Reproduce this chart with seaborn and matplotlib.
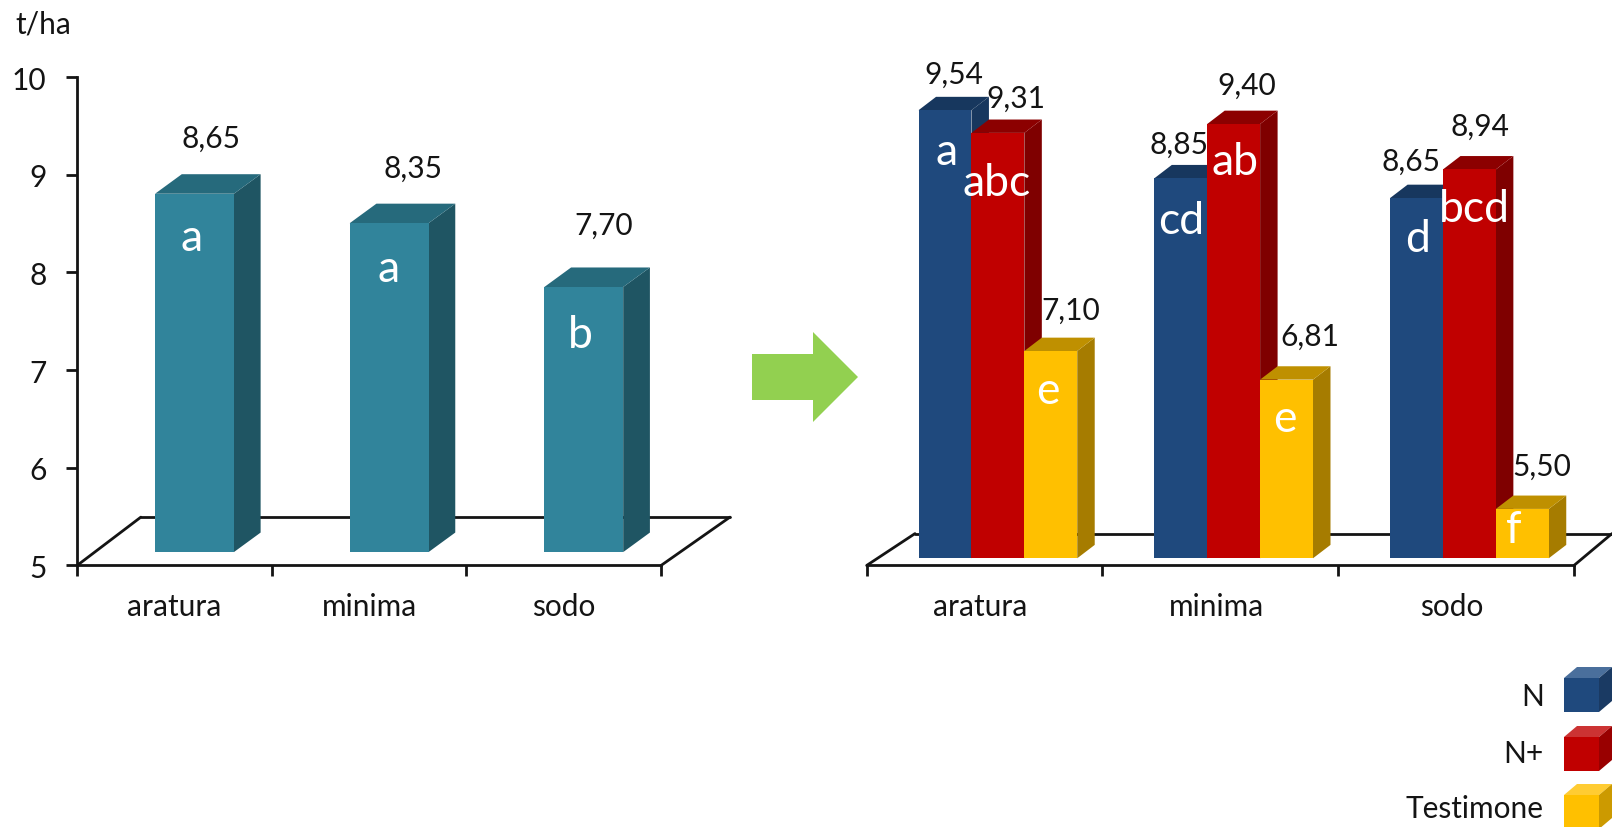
import matplotlib
matplotlib.use("Agg")
import matplotlib.pyplot as plt
import pandas as pd
import seaborn as sns
from matplotlib.patches import Polygon

# Yield by tillage, and yield by tillage and nitrogen treatment (t/ha)
tillage = ["aratura", "minima", "sodo"]
tillage_yield = [8.65, 8.35, 7.70]
tillage_letters = ["a", "a", "b"]

treatments = ["N", "N+", "Testimone"]
yield_n = [9.54, 8.85, 8.65]
yield_n_plus = [9.31, 9.40, 8.94]
yield_control = [7.10, 6.81, 5.50]
letters_n = ["a", "cd", "d"]
letters_n_plus = ["abc", "ab", "bcd"]
letters_control = ["e", "e", "f"]

W, H = 1612, 828
S = W / 1568          # layout below is measured on a 1568-wide grid
FONT = "Lato"
sns.set_theme(style="white")
plt.rcParams["font.family"] = FONT
INK = "#141414"
TEXT_SIZE = 21.5
LETTER_SIZE = 32


def fmt(v):
    return f"{v:.2f}".replace(".", ",")


def box(x0, x1, y_low, y_high):
    """Axes rectangle in figure fractions from grid coordinates (y pointing down)."""
    return [x0 * S / W, 1 - y_low * S / H, (x1 - x0) * S / W, (y_low - y_high) * S / H]


def px(x, y):
    return (x * S / W, 1 - y * S / H)


def extrude(ax, bar, depth_x, depth_y, top_col, side_col, z):
    """Add the top and side faces of a bar, receding by a fixed pixel depth."""
    x_unit = ax.get_window_extent().width / (ax.get_xlim()[1] - ax.get_xlim()[0])
    y_unit = ax.get_window_extent().height / (ax.get_ylim()[1] - ax.get_ylim()[0])
    dx, dy = depth_x * S * fig.dpi / 100 / x_unit, depth_y * S * fig.dpi / 100 / y_unit
    x0, x1 = bar.get_x(), bar.get_x() + bar.get_width()
    top = bar.get_height()
    base = ax.get_ylim()[0]
    ax.add_patch(Polygon([(x1, base), (x1 + dx, base + dy), (x1 + dx, top + dy), (x1, top)],
                         closed=True, fc=side_col, ec="none", lw=0, clip_on=False, zorder=z))
    ax.add_patch(Polygon([(x0, top), (x0 + dx, top + dy), (x1 + dx, top + dy), (x1, top)],
                         closed=True, fc=top_col, ec="none", lw=0, clip_on=False, zorder=z))
    bar.set_zorder(z + 0.5)
    bar.set_edgecolor("none")
    bar.set_linewidth(0)


def base_axes(rect, show_y, label_shift=0.0):
    ax = fig.add_axes(rect)
    ax.set_xlim(-0.5, 2.5)
    ax.set_ylim(5, 10)
    ax.set_xticks([-0.5, 0.5, 1.5, 2.5])
    ax.set_xticklabels([])
    ax.set_xticks([label_shift, 1 + label_shift, 2 + label_shift], labels=tillage, minor=True)
    ax.tick_params(axis="x", which="major", length=8, width=2, color=INK, bottom=True)
    ax.tick_params(axis="x", which="minor", length=0, pad=19, labelsize=TEXT_SIZE, labelcolor=INK)
    sns.despine(ax=ax, top=True, right=True, left=not show_y)
    ax.spines["bottom"].set(linewidth=2, color=INK)
    if show_y:
        ax.spines["left"].set(linewidth=2, color=INK)
        ax.set_yticks([5, 6, 7, 8, 9, 10])
        ax.tick_params(axis="y", length=8, width=2, color=INK, left=True, pad=14,
                       labelsize=TEXT_SIZE, labelcolor=INK)
    else:
        ax.set_yticks([])
    ax.patch.set_visible(False)
    return ax


def floor(ax, dx_left, dx_right, back_y):
    t = ax.transAxes
    style = dict(transform=t, color=INK, lw=2, clip_on=False, solid_capstyle="round")
    ax.plot([0, dx_left], [0, back_y], **style)
    ax.plot([dx_left, 1 + dx_right], [back_y, back_y], **style)
    ax.plot([1, 1 + dx_right], [0, back_y], **style)


def bar_axes(rect):
    ax = fig.add_axes(rect)
    ax.set_zorder(5)
    ax.patch.set_visible(False)
    return ax


def finish(ax):
    ax.set_xlim(-0.5, 2.5)
    ax.set_ylim(5, 10)
    ax.axis("off")


fig = plt.figure(figsize=(W / 100, H / 100), dpi=100, facecolor="white")

# ---- left panel: tillage main effect
ax_l = base_axes(box(75, 643, 551, 76), True)
floor(ax_l, 62 / 568, 67 / 568, 47 / 475)
bars_l = bar_axes(box(94.5, 662.5, 538, 60.5))
sns.barplot(data=pd.DataFrame({"tillage": tillage, "yield": tillage_yield}),
            x="tillage", y="yield", color="#31849B", saturation=1, width=0.405, ax=bars_l)
finish(bars_l)

value_off_l = [(16, -54), (23, -54), (19, -61)]
letter_off_l = [(-3, 43), (-1, 44), (-3, 46)]
for i, bar in enumerate(sorted(bars_l.patches, key=lambda p: p.get_x())):
    extrude(bars_l, bar, 26, 19, "#266A7C", "#1F5563", 2 + i)
    cx = bar.get_x() + bar.get_width() / 2
    top = bar.get_height()
    for txt, off, col, size in [(fmt(tillage_yield[i]), value_off_l[i], INK, TEXT_SIZE),
                                (tillage_letters[i], letter_off_l[i], "white", LETTER_SIZE)]:
        bars_l.annotate(txt, (cx, top), xytext=(off[0] * S, -off[1] * S), textcoords="offset pixels",
                        ha="center", va="center", color=col, fontsize=size, zorder=30,
                        annotation_clip=False)

# ---- right panel: tillage by nitrogen treatment
ax_r = base_axes(box(843, 1531, 551, 76), False, label_shift=-0.018)
floor(ax_r, 47 / 688, 37 / 688, 31 / 475)
bars_r = bar_axes(box(856, 1544, 544, 64))
long_df = pd.DataFrame({
    "tillage": tillage * 3,
    "treatment": [t for t in treatments for _ in tillage],
    "yield": yield_n + yield_n_plus + yield_control,
})
front_cols = ["#1F497D", "#C00000", "#FFC000"]
sns.barplot(data=long_df, x="tillage", y="yield", hue="treatment", hue_order=treatments,
            palette=front_cols, saturation=1, width=0.673, gap=0, legend=False, ax=bars_r)
finish(bars_r)

top_cols = ["#17375E", "#8C0000", "#BF9000"]
side_cols = ["#17375E", "#7F0000", "#A67C00"]
values_by_bar = [yield_n[0], yield_n_plus[0], yield_control[0],
                 yield_n[1], yield_n_plus[1], yield_control[1],
                 yield_n[2], yield_n_plus[2], yield_control[2]]
letters_by_bar = [letters_n[0], letters_n_plus[0], letters_control[0],
                  letters_n[1], letters_n_plus[1], letters_control[1],
                  letters_n[2], letters_n_plus[2], letters_control[2]]
value_off_r = [(8.5, -35), (17.5, -34), (19.5, -40), (-1.5, -34), (12.5, -38), (23, -43),
               (-5.5, -36), (10.5, -42), (19, -42)]
letter_off_r = [(1.5, 40), (-1.5, 48), (-2.5, 38), (0.5, 41), (1.5, 36), (-2, 38),
                (0.5, 39), (4.5, 38), (-8, 20)]
for i, bar in enumerate(sorted([p for p in bars_r.patches if p.get_width() > 0],
                               key=lambda p: p.get_x())):
    extrude(bars_r, bar, 17, 13, top_cols[i % 3], side_cols[i % 3], 2 + i)
    cx = bar.get_x() + bar.get_width() / 2
    top = bar.get_height()
    for txt, off, col, size in [(fmt(values_by_bar[i]), value_off_r[i], INK, TEXT_SIZE),
                                (letters_by_bar[i], letter_off_r[i], "white", LETTER_SIZE)]:
        bars_r.annotate(txt, (cx, top), xytext=(off[0] * S, -off[1] * S), textcoords="offset pixels",
                        ha="center", va="center", color=col, fontsize=size, zorder=30,
                        annotation_clip=False)

# ---- unit label, arrow and cube legend
fig.text(*px(42, 24), "t/ha", ha="center", va="center", fontsize=TEXT_SIZE, color=INK)


def full(x, y):
    return (x / W, 1 - y / H)


arrow = [(752, 355), (813, 355), (813, 333), (858, 378), (813, 423), (813, 401), (752, 401)]
fig.add_artist(Polygon([full(*p) for p in arrow], closed=True, fc="#92D050", ec="none",
                       transform=fig.transFigure))

legend_faces = [("#1F497D", "#4A6F9C", "#1A3A63"),
                ("#C00000", "#CC3333", "#990000"),
                ("#FFC000", "#FFCC33", "#CC9A00")]
legend_rows = [(679, 713, 697), (738, 772, 754), (796, 830, 809)]
for name, (front, lid, side), (y0, y1, y_text) in zip(treatments, legend_faces, legend_rows):
    x0, x1, dx, dy = 1564, 1599, 13, 11
    faces = [
        ([(x0, y0), (x1, y0), (x1, y1), (x0, y1)], front),
        ([(x0, y0), (x0 + dx, y0 - dy), (x1 + dx, y0 - dy), (x1, y0)], lid),
        ([(x1, y0), (x1 + dx, y0 - dy), (x1 + dx, y1 - dy), (x1, y1)], side),
    ]
    for verts, col in faces:
        fig.add_artist(Polygon([full(*v) for v in verts], closed=True, fc=col, ec="none", lw=0,
                               transform=fig.transFigure))
    fig.text(*full(1544, y_text), name, ha="right", va="center", fontsize=TEXT_SIZE, color=INK)

fig.savefig("out.png", dpi=100, facecolor="white")
